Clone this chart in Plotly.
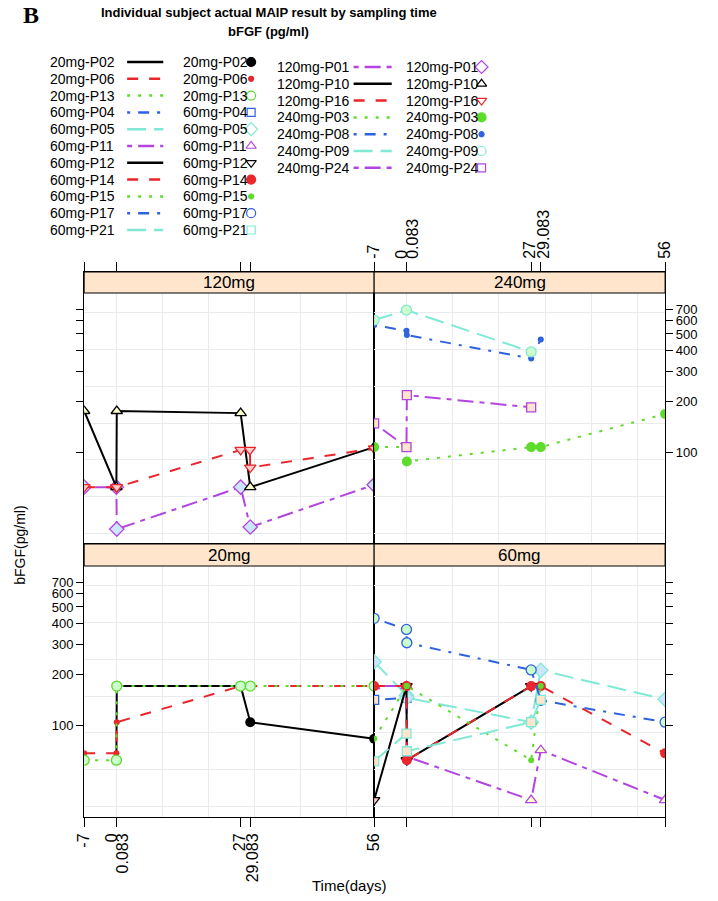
import math
import plotly.graph_objects as go

W, H = 718, 901

# axis ticks / grid
X_TICKS = [-7, 0, 0.083, 27, 29.083, 56]
X_TICK_LABELS = ["-7", "0", "0.083", "27", "29.083", "56"]
X_RANGE = [-7, 56]
X_GRID = [0, 10, 20, 30, 40, 50]
Y_TICKS = [100, 200, 300, 400, 500, 600, 700]
LN_GRID = [3.5, 4, 4.5, 5, 5.5, 6, 6.5]

# bFGF (pg/ml) by subject: sampling times (days) and values
T_20MG_P02 = [0, 0.083, 27, 29.083, 56]
V_20MG_P02 = [62, 170, 170, 104, 83]
T_20MG_P06 = [-7, 0, 0.083, 27, 29.083, 56]
V_20MG_P06 = [68, 68, 104, 170, 170, 170]
T_20MG_P13 = [-7, 0, 0.083, 27, 29.083, 56]
V_20MG_P13 = [62, 62, 170, 170, 170, 170]
T_60MG_P04 = [-7, 0]
V_60MG_P04 = [141, 145]
T_60MG_P05 = [-7, 0, 0.083, 27, 29.083, 56]
V_60MG_P05 = [237, 150, 145, 104, 211, 142]
T_60MG_P11 = [-7, 0, 0.083, 27, 29.083, 56]
V_60MG_P11 = [170, 170, 65, 36, 71, 36]
T_60MG_P12 = [-7, 0, 0.083, 27]
V_60MG_P12 = [36, 170, 62, 170]
T_60MG_P14 = [-7, 0, 0.083, 27, 29.083, 56]
V_60MG_P14 = [170, 170, 62, 170, 170, 68]
T_60MG_P15 = [-7, 0, 0.083, 27, 29.083]
V_60MG_P15 = [83, 170, 170, 62, 170]
T_60MG_P17 = [-7, 0, 0.083, 27, 29.083, 56]
V_60MG_P17 = [428, 368, 307, 212, 140, 104]
T_60MG_P21 = [-7, 0, 0.083, 27, 29.083]
V_60MG_P21 = [61, 89, 70, 104, 141]
T_120MG_P01 = [-7, 0, 0.083, 27, 29.083, 56]
V_120MG_P01 = [62, 62, 35, 62, 36, 64]
T_120MG_P10 = [-7, 0, 0.083, 27, 29.083, 56]
V_120MG_P10 = [175, 62, 175, 170, 62, 107]
T_120MG_P16 = [-7, 0, 0.083, 27, 29, 29.083, 56]
V_120MG_P16 = [62, 62, 62, 103, 103, 81, 105]
T_240MG_P03 = [-7, 0, 0.083, 27, 29.083, 56]
V_240MG_P03 = [107, 107, 88, 107, 107, 168]
T_240MG_P08 = [-7, 0, 0.083, 27, 29.083]
V_240MG_P08 = [564, 522, 492, 358, 464]
T_240MG_P09 = [-7, 0, 27]
V_240MG_P09 = [604, 692, 392]
T_240MG_P24 = [-7, 0, 0.083, 27]
V_240MG_P24 = [148, 107, 217, 184]

SERIES = [
    ("20mg-P02", T_20MG_P02, V_20MG_P02),
    ("20mg-P06", T_20MG_P06, V_20MG_P06),
    ("20mg-P13", T_20MG_P13, V_20MG_P13),
    ("60mg-P04", T_60MG_P04, V_60MG_P04),
    ("60mg-P05", T_60MG_P05, V_60MG_P05),
    ("60mg-P11", T_60MG_P11, V_60MG_P11),
    ("60mg-P12", T_60MG_P12, V_60MG_P12),
    ("60mg-P14", T_60MG_P14, V_60MG_P14),
    ("60mg-P15", T_60MG_P15, V_60MG_P15),
    ("60mg-P17", T_60MG_P17, V_60MG_P17),
    ("60mg-P21", T_60MG_P21, V_60MG_P21),
    ("120mg-P01", T_120MG_P01, V_120MG_P01),
    ("120mg-P10", T_120MG_P10, V_120MG_P10),
    ("120mg-P16", T_120MG_P16, V_120MG_P16),
    ("240mg-P03", T_240MG_P03, V_240MG_P03),
    ("240mg-P08", T_240MG_P08, V_240MG_P08),
    ("240mg-P09", T_240MG_P09, V_240MG_P09),
    ("240mg-P24", T_240MG_P24, V_240MG_P24),
]

# lattice-like style cycles
LINE_COLORS = ["#000000", "#e8262b", "#5ddc2c", "#2f62e0", "#80e9d6", "#b245e0"]
LINE_DASHES = ["solid", "11px,11px", "3px,8px", "3px,8px,11px,8px", "19px,8px", "5px,6px,16px,6px"]
SYMBOLS = ["circle", "circle", "circle", "square", "diamond", "triangle-up", "triangle-down"]
SYMBOL_SOLID = [True, True, False, False, False, False, False]
SYMBOL_SIZE = [10, 6, 10, 9, 11, 10, 10]
SYMBOL_FILLS = ["#ccffff", "#ffccff", "#ccffcc", "#ffe5cc", "#cce6ff", "#ffffcc", "#ffcccc"]

FONT = "Liberation Sans, Arial, sans-serif"
GRID = "#e9ecef"
STRIP = "#ffe5cc"

# panel layout (pixels): column x-extent, row (top, strip bottom, bottom)
COL_X = [(77, 374), (374, 672)]
ROW_Y = [(272, 293, 544), (544, 566, 817)]
PX_PER_DECADE = 169
Y_LOG_MIN = 1.456
# sideways nudge (px) of each x tick label so close pairs stay readable
X_LABEL_SHIFT = [0, -5, 6, -1, 3, 0]

# panel: (axis number, column, row, x side, x labels, y side, y labels)
PANELS = {
    "120mg": (1, 0, 0, "top", False, "left", False),
    "240mg": (2, 1, 0, "top", True, "right", True),
    "20mg": (3, 0, 1, "bottom", True, "left", True),
    "60mg": (4, 1, 1, "bottom", False, "right", False),
}


def fx(px):
    return px / W


def fy(py):
    return 1 - py / H


fig = go.Figure()
layout = dict(
    width=W, height=H,
    margin=dict(l=0, r=0, t=0, b=0),
    paper_bgcolor="white",
    plot_bgcolor="rgba(0,0,0,0)",
    showlegend=False,
    font=dict(family=FONT, color="black"),
    shapes=[], annotations=[],
)

overlay_id = 10

for name, (k, col, row, xside, xlab, yside, ylab) in PANELS.items():
    x0, x1 = COL_X[col]
    top, strip_bot, bot = ROW_Y[row]
    y_top = Y_LOG_MIN + (bot - top) / PX_PER_DECADE
    layout[f"xaxis{k}"] = dict(
        domain=[fx(x0), fx(x1)], anchor=f"y{k}", side=xside, range=X_RANGE,
        tickmode="array", tickvals=X_TICKS, showticklabels=False,
        ticks="outside", ticklen=9, tickcolor="black",
        showline=True, mirror=True, linecolor="black", linewidth=1,
        showgrid=False, zeroline=False,
        minor=dict(tickmode="array", tickvals=X_GRID, showgrid=True,
                   gridcolor=GRID, gridwidth=1, ticks=""),
    )
    layout[f"yaxis{k}"] = dict(
        domain=[fy(bot), fy(top)], anchor=f"x{k}", side=yside, type="log",
        range=[Y_LOG_MIN, y_top],
        tickmode="array", tickvals=Y_TICKS, ticktext=[str(v) for v in Y_TICKS],
        showticklabels=ylab, ticks="outside", ticklen=7, tickcolor="black",
        tickfont=dict(size=13, family=FONT),
        showline=True, mirror=True, linecolor="black", linewidth=1,
        showgrid=False, zeroline=False,
        minor=dict(tickmode="array", tickvals=[math.exp(v) for v in LN_GRID],
                   showgrid=True, gridcolor=GRID, gridwidth=1, ticks=""),
    )
    if xlab:
        # one overlay axis per label nudge, so near-coincident ticks don't collide
        for shift in sorted(set(X_LABEL_SHIFT)):
            idx = [i for i, s in enumerate(X_LABEL_SHIFT) if s == shift]
            layout[f"xaxis{overlay_id}"] = dict(
                overlaying=f"x{k}", anchor=f"y{k}", side=xside, range=X_RANGE,
                tickmode="array", tickvals=[X_TICKS[i] for i in idx],
                ticktext=[X_TICK_LABELS[i] for i in idx],
                tickangle=-90, ticks="outside", ticklen=9, tickcolor="black",
                tickfont=dict(size=16, family=FONT), ticklabelshift=shift,
                showline=False, showgrid=False, zeroline=False,
            )
            fig.add_trace(go.Scatter(x=[], y=[], xaxis=f"x{overlay_id}", yaxis=f"y{k}",
                                     hoverinfo="skip"))
            overlay_id += 1

    # strip
    layout["shapes"].append(dict(
        type="rect", xref="paper", yref="paper", layer="above",
        x0=fx(x0), x1=fx(x1), y0=fy(strip_bot), y1=fy(top),
        fillcolor=STRIP, line=dict(color="black", width=1),
    ))
    layout["annotations"].append(dict(
        text=name, xref="paper", yref="paper", x=fx((x0 + x1) / 2),
        y=fy((top + strip_bot) / 2), showarrow=False,
        font=dict(size=17, family=FONT), xanchor="center", yanchor="middle",
    ))

# data traces
for i, (name, times, vals) in enumerate(SERIES):
    k = PANELS[name.split("-")[0]][0]
    c = LINE_COLORS[i % 6]
    s = i % 7
    fig.add_trace(go.Scatter(
        x=times, y=vals, mode="lines+markers", name=name,
        xaxis=f"x{k}", yaxis=f"y{k}",
        line=dict(color=c, width=2, dash=LINE_DASHES[i % 6]),
        marker=dict(
            symbol=SYMBOLS[s], size=SYMBOL_SIZE[s],
            color=c if SYMBOL_SOLID[s] else SYMBOL_FILLS[s],
            line=dict(color=c, width=0 if SYMBOL_SOLID[s] else 1.3),
        ),
    ))

# key (drawn on its own hidden axes, in pixel units)
LEG_TOP, LEG_BOT = 40, 250
LEG_ROWS = 11
LEG_Y0 = [62, 67]
LEG_DY = 16.8
LEG_TEXT1_X = [40, 272]
LEG_LINE_X = [(121, 158), (353, 392)]
LEG_TEXT2_X = [176, 405]
LEG_PT_X = [248, 484]

layout["xaxis7"] = dict(domain=[0, 1], anchor="y7", range=[0, W], visible=False, fixedrange=True)
layout["yaxis7"] = dict(domain=[fy(LEG_BOT), fy(LEG_TOP)], anchor="x7",
                        range=[LEG_BOT, LEG_TOP], visible=False, fixedrange=True)

for i, (name, _, _) in enumerate(SERIES):
    b = 0 if i < LEG_ROWS else 1
    r = i if b == 0 else i - LEG_ROWS
    y = LEG_Y0[b] + r * LEG_DY
    c = LINE_COLORS[i % 6]
    s = i % 7
    for tx in (LEG_TEXT1_X[b], LEG_TEXT2_X[b]):
        layout["annotations"].append(dict(
            text=name, x=tx, y=y, xref="x7", yref="y7", showarrow=False,
            xanchor="left", yanchor="middle",
            font=dict(size=14, family=FONT, color="black"),
        ))
    fig.add_trace(go.Scatter(
        x=list(LEG_LINE_X[b]), y=[y, y], mode="lines",
        line=dict(color=c, width=2.5, dash=LINE_DASHES[i % 6]),
        xaxis="x7", yaxis="y7", hoverinfo="skip",
    ))
    fig.add_trace(go.Scatter(
        x=[LEG_PT_X[b]], y=[y], mode="markers",
        marker=dict(
            symbol=SYMBOLS[s] if SYMBOL_SOLID[s] else SYMBOLS[s] + "-open",
            size=SYMBOL_SIZE[s] - 1, color=c, line=dict(color=c, width=1.2),
        ),
        xaxis="x7", yaxis="y7", hoverinfo="skip",
    ))

# titles
layout["annotations"] += [
    dict(text="<b>B</b>", x=fx(12), y=fy(15), xref="paper", yref="paper",
         showarrow=False, xanchor="left", yanchor="middle",
         font=dict(size=24, family="Liberation Serif, Times New Roman, serif")),
    dict(text="<b>Individual subject actual MAIP result by sampling time</b>",
         x=fx(266), y=fy(12), xref="paper", yref="paper", showarrow=False,
         xanchor="center", yanchor="middle", font=dict(size=13, family=FONT)),
    dict(text="<b>bFGF (pg/ml)</b>",
         x=fx(266), y=fy(32), xref="paper", yref="paper", showarrow=False,
         xanchor="center", yanchor="middle", font=dict(size=13, family=FONT)),
    dict(text="Time(days)", x=fx(348), y=fy(885), xref="paper", yref="paper",
         showarrow=False, xanchor="center", yanchor="middle",
         font=dict(size=15, family=FONT)),
    dict(text="bFGF(pg/ml)", x=fx(11), y=fy(545), xref="paper", yref="paper",
         showarrow=False, textangle=-90, xanchor="center", yanchor="middle",
         font=dict(size=14, family=FONT)),
]

fig.update_layout(**layout)
fig.write_html("out.html", config={"displayModeBar": False},
               post_script="document.body.style.margin='0';")
